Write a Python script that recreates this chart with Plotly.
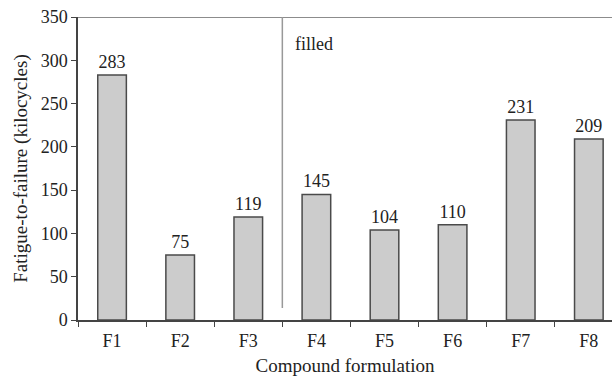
import plotly.graph_objects as go

categories = ["F1", "F2", "F3", "F4", "F5", "F6", "F7", "F8"]
values = [283, 75, 119, 145, 104, 110, 231, 209]
y_ticks = [0, 50, 100, 150, 200, 250, 300, 350]

FONT = "Liberation Serif, Times New Roman, serif"
X_RANGE = [-0.5, 7.34]
span = X_RANGE[1] - X_RANGE[0]


def xdom(v):
    return (v - X_RANGE[0]) / span


fig = go.Figure()
fig.add_trace(go.Bar(
    x=categories, y=values, width=0.42,
    marker=dict(color="#cccccc", line=dict(color="#4a4a4a", width=1.5)),
    text=[str(v) for v in values], textposition="outside",
    textfont=dict(family=FONT, size=18, color="#222"),
    cliponaxis=False,
))

# boundary between F3 (index 2) and F4 (index 3)
fig.add_shape(type="line", xref="x domain", yref="y", x0=0, x1=1, y0=350, y1=350,
              line=dict(color="#666", width=1.5))
fig.add_shape(type="line", xref="x domain", yref="y", x0=xdom(2.5), x1=xdom(2.5),
              y0=14, y1=350, line=dict(color="#999", width=1.5))
fig.add_annotation(x=xdom(2.66), y=319, xref="x domain", yref="y", text="filled",
                   showarrow=False, xanchor="left", yanchor="middle",
                   font=dict(family=FONT, size=18, color="#222"))

fig.update_layout(
    width=612, height=377,
    margin=dict(l=78, r=0, t=17, b=57),
    paper_bgcolor="white", plot_bgcolor="white",
    showlegend=False,
    font=dict(family=FONT, size=18, color="#222"),
    xaxis=dict(type="category", range=X_RANGE, tickson="boundaries",
               ticks="outside", ticklen=5, tickcolor="#444",
               showline=True, linecolor="#444", linewidth=1.5,
               showgrid=False, tickfont=dict(family=FONT, size=18),
               ticklabelstandoff=4,
               title=dict(text="Compound formulation", standoff=8,
                          font=dict(family=FONT, size=19))),
    yaxis=dict(range=[0, 350], tickvals=y_ticks, ticks="outside", ticklen=5,
               tickcolor="#444", showline=True, linecolor="#444", linewidth=1.5,
               showgrid=False, zeroline=False, tickfont=dict(family=FONT, size=18),
               title=dict(text="Fatigue-to-failure (kilocycles)", standoff=8,
                          font=dict(family=FONT, size=19))),
)

fig.write_html("out.html")
